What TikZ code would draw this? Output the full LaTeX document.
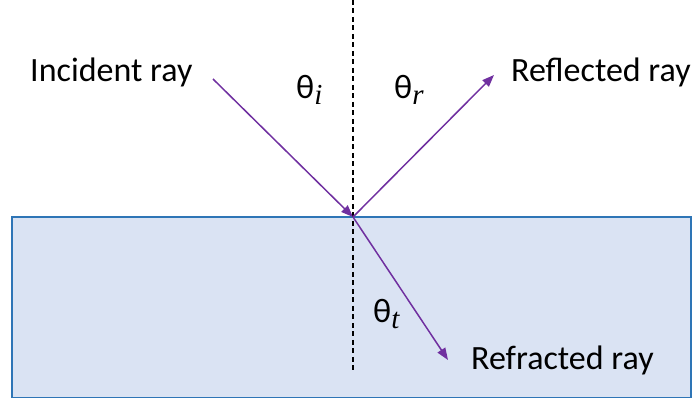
\documentclass[tikz,border=0pt]{standalone}
\usepackage{fontspec}
\setmainfont{Carlito}
\newfontfamily\subfont{Liberation Serif}
\usepackage{tikz}
\usetikzlibrary{arrows.meta, positioning}
\definecolor{ray}{HTML}{7030A0}
\definecolor{glass}{HTML}{DAE3F3}
\definecolor{edge}{HTML}{2E75B6}
\newcommand{\angsub}[1]{\raisebox{-6pt}{\fontsize{29}{32}\subfont\itshape #1}}

\begin{document}
\begin{tikzpicture}[x=1pt, y=1pt,
    raystyle/.style={ray, line width=1.5pt, -{Triangle[length=12pt, width=9pt]}},
    lbl/.style={font=\fontsize{34}{40}\selectfont, anchor=base west, inner sep=0pt},
    ang/.style={font=\fontsize{34}{40}\selectfont, anchor=base west, inner sep=0pt}]
    \useasboundingbox (0,0) rectangle (692,398);

    % --- medium below the surface ---
    \draw[edge, fill=glass, line width=1.2pt] (12,0.8) rectangle (691,181);

    % --- normal ---
    \coordinate (hit) at (353,181);
    \coordinate (ntop) at (353,398);
    \coordinate (nbot) at (353,25);
    \draw[black, line width=1.2pt, dash pattern=on 5pt off 3.5pt] (ntop) -- (nbot);

    % --- rays ---
    \coordinate (src) at (213,319);
    \coordinate (refl) at (494,323);
    \coordinate (refr) at (448,38);
    \draw[raystyle] (src) -- (hit);
    \draw[raystyle] (hit) -- (refl);
    \draw[raystyle] (hit) -- (refr);

    % --- labels ---
    \node[lbl] (incident) at (30,316) {Incident ray};
    \node[lbl] (reflected) at (511,316) {Reflected ray};
    \node[lbl] (refracted) at (471,28) {Refracted ray};
    \node[ang] (thi) at (296,299) {θ\angsub{i}};
    \node[ang] (thr) at (394,299) {θ\angsub{r}};
    \node[ang] (tht) at (373,75) {θ\angsub{t}};
  \end{tikzpicture}
\end{document}
